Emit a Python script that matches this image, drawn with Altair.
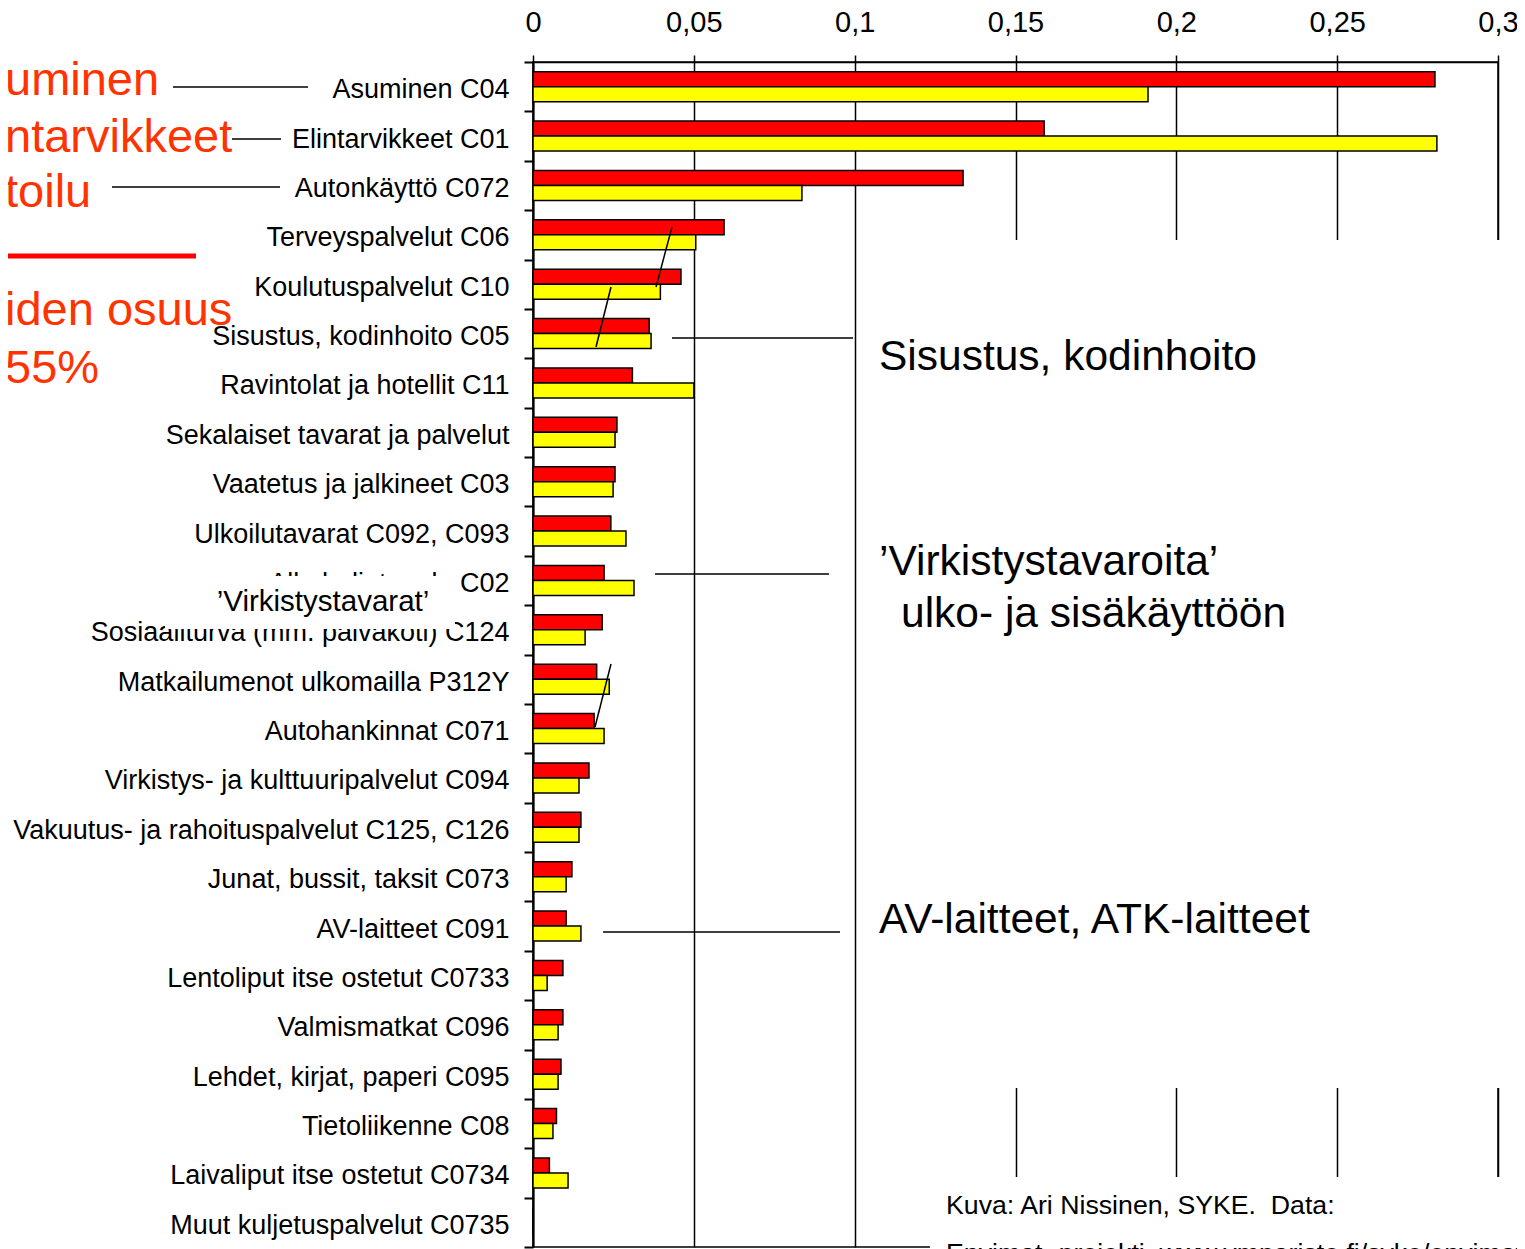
import altair as alt
import pandas as pd

FONT = "Liberation Sans"

# ---------------- data ----------------
categories = [
    "Asuminen C04",
    "Elintarvikkeet C01",
    "Autonkäyttö C072",
    "Terveyspalvelut C06",
    "Koulutuspalvelut C10",
    "Sisustus, kodinhoito C05",
    "Ravintolat ja hotellit C11",
    "Sekalaiset tavarat ja palvelut",
    "Vaatetus ja jalkineet C03",
    "Ulkoilutavarat C092, C093",
    "Alkoholi, tupak. C02",
    "Sosiaaliturva (mm. päiväkoti) C124",
    "Matkailumenot ulkomailla P312Y",
    "Autohankinnat C071",
    "Virkistys- ja kulttuuripalvelut C094",
    "Vakuutus- ja rahoituspalvelut C125, C126",
    "Junat, bussit, taksit C073",
    "AV-laitteet C091",
    "Lentoliput itse ostetut C0733",
    "Valmismatkat C096",
    "Lehdet, kirjat, paperi C095",
    "Tietoliikenne C08",
    "Laivaliput itse ostetut C0734",
    "Muut kuljetuspalvelut C0735",
]
red_values = [0.2804, 0.1589, 0.1337, 0.0594, 0.0460, 0.0361, 0.0309, 0.0261,
              0.0255, 0.0242, 0.0221, 0.0215, 0.0198, 0.0190, 0.0174, 0.0149,
              0.0121, 0.0103, 0.0093, 0.0093, 0.0087, 0.0073, 0.0051, 0.0]
yellow_values = [0.1912, 0.2810, 0.0836, 0.0506, 0.0396, 0.0367, 0.0500, 0.0255,
                 0.0249, 0.0289, 0.0314, 0.0162, 0.0237, 0.0221, 0.0143, 0.0143,
                 0.0103, 0.0149, 0.0044, 0.0078, 0.0078, 0.0062, 0.0109, 0.0]
series = ["Sarja 1", "Sarja 2"]
series_colors = ["#FF0000", "#FFFF00"]
tick_values = [0, 0.05, 0.1, 0.15, 0.2, 0.25, 0.3]

# ---------------- annotation text ----------------
left_texts = ["uminen", "ntarvikkeet", "toilu", "iden osuus", "55%"]
right_texts = ["Sisustus, kodinhoito", "\u2019Virkistystavaroita\u2019",
               "ulko- ja sisäkäyttöön", "AV-laitteet, ATK-laitteet"]
foot_texts = ["Kuva: Ari Nissinen, SYKE.\u00a0 Data:",
              "Envimat -projekti, www.ymparisto.fi/syke/envimat"]
box_text = ["\u2019Virkistystavarat\u2019"]

# ---------------- layout (pixels, plot-area coordinates) ----------------
W, H = 965, 1185

left_pos_x = [-528, -528, -528, -528, -528]
left_pos_y = [33, 90, 145, 263, 321]
right_pos_x = [346, 346, 368, 346]
right_pos_y = [308, 513, 565, 871]
foot_pos_x = [413, 413]
foot_pos_y = [1152, 1200]
box_pos_x = [-210]
box_pos_y = [540]

mask_x1 = [327, 397, -368]
mask_x2 = [1000, 1000, -78]
mask_y1 = [178, 1115, 514]
mask_y2 = [1026, 1240, 567]

line_x1 = [-360, -301, -421, 139, 78, 78, 139, 122, 70]
line_x2 = [-225, -252, -253, 123, 63, 62, 320, 296, 307]
line_y1 = [25, 77, 125, 165, 225, 602, 276, 512, 870]
line_y2 = [25, 77, 125, 225, 285, 665, 276, 512, 870]

red_line = {"x1": [-533], "x2": [-337], "y": [194]}

# ---------------- chart ----------------
n = len(categories)
bars_df = pd.DataFrame({
    "luokka": categories * 2,
    "sarja": [series[0]] * n + [series[1]] * n,
    "arvo": red_values + yellow_values,
})

bars = alt.Chart(bars_df).mark_bar(stroke="black", strokeWidth=1.5).encode(
    y=alt.Y("luokka:N", sort=categories,
            scale=alt.Scale(paddingInner=0, paddingOuter=0),
            axis=alt.Axis(title=None, orient="left", tickBand="extent",
                          labelFont=FONT, labelFontSize=27, labelColor="black",
                          labelPadding=15, labelLimit=700, labelOffset=3,
                          tickSize=9, tickWidth=2, tickColor="black",
                          domainColor="black", domainWidth=2, grid=False)),
    yOffset=alt.YOffset("sarja:N", sort=series,
                        scale=alt.Scale(paddingInner=0, paddingOuter=0.65)),
    x=alt.X("arvo:Q", scale=alt.Scale(domain=[0, 0.3], nice=False, zero=True),
            axis=alt.Axis(title=None, orient="top", values=tick_values,
                          labelExpr="replace(format(datum.value, '~g'), '.', ',')",
                          labelFont=FONT, labelFontSize=29, labelColor="black",
                          labelPadding=18, labelFlush=False, tickSize=7,
                          tickWidth=1.5, tickColor="black", domainColor="black",
                          domainWidth=1.5, grid=True, gridColor="black",
                          gridWidth=1.5, gridOpacity=1)),
    color=alt.Color("sarja:N", scale=alt.Scale(domain=series, range=series_colors),
                    legend=None),
)

masks = alt.Chart(pd.DataFrame({"x1": mask_x1, "x2": mask_x2,
                                "y1": mask_y1, "y2": mask_y2})).mark_rect(
    color="white", opacity=1).encode(
    x=alt.X("x1:Q", scale=None), x2="x2:Q",
    y=alt.Y("y1:Q", scale=None), y2="y2:Q",
)

lines = alt.Chart(pd.DataFrame({"x1": line_x1, "x2": line_x2,
                                "y1": line_y1, "y2": line_y2})).mark_rule(
    color="black", strokeWidth=1.5).encode(
    x=alt.X("x1:Q", scale=None), x2="x2:Q",
    y=alt.Y("y1:Q", scale=None), y2="y2:Q",
)

red_rule = alt.Chart(pd.DataFrame(red_line)).mark_rule(
    color="#FF0000", strokeWidth=5).encode(
    x=alt.X("x1:Q", scale=None), x2="x2:Q",
    y=alt.Y("y:Q", scale=None),
)

def text_layer(texts, xs, ys, size, color, align="left", baseline="alphabetic"):
    df = pd.DataFrame({"t": texts, "x": xs, "y": ys})
    return alt.Chart(df).mark_text(
        font=FONT, fontSize=size, color=color, align=align, baseline=baseline
    ).encode(
        x=alt.X("x:Q", scale=None), y=alt.Y("y:Q", scale=None), text="t:N"
    )

left_layer = text_layer(left_texts, left_pos_x, left_pos_y, 47, "#FF3300")
right_layer = text_layer(right_texts, right_pos_x, right_pos_y, 42.5, "black")
foot_layer = text_layer(foot_texts, foot_pos_x, foot_pos_y, 26.7, "black")
box_layer = text_layer(box_text, box_pos_x, box_pos_y, 29.5, "black",
                       align="center", baseline="middle")

chart = alt.layer(
    bars, masks, lines, red_rule, left_layer, right_layer, foot_layer, box_layer
).properties(
    width=W, height=H,
    autosize=alt.AutoSizeParams(type="none"),
    padding={"left": 525, "top": 54, "right": 19, "bottom": 50},
    background="white",
).configure_view(stroke="black", strokeWidth=1.5)

chart.save("out.html", embed_options={"renderer": "svg", "actions": False})
